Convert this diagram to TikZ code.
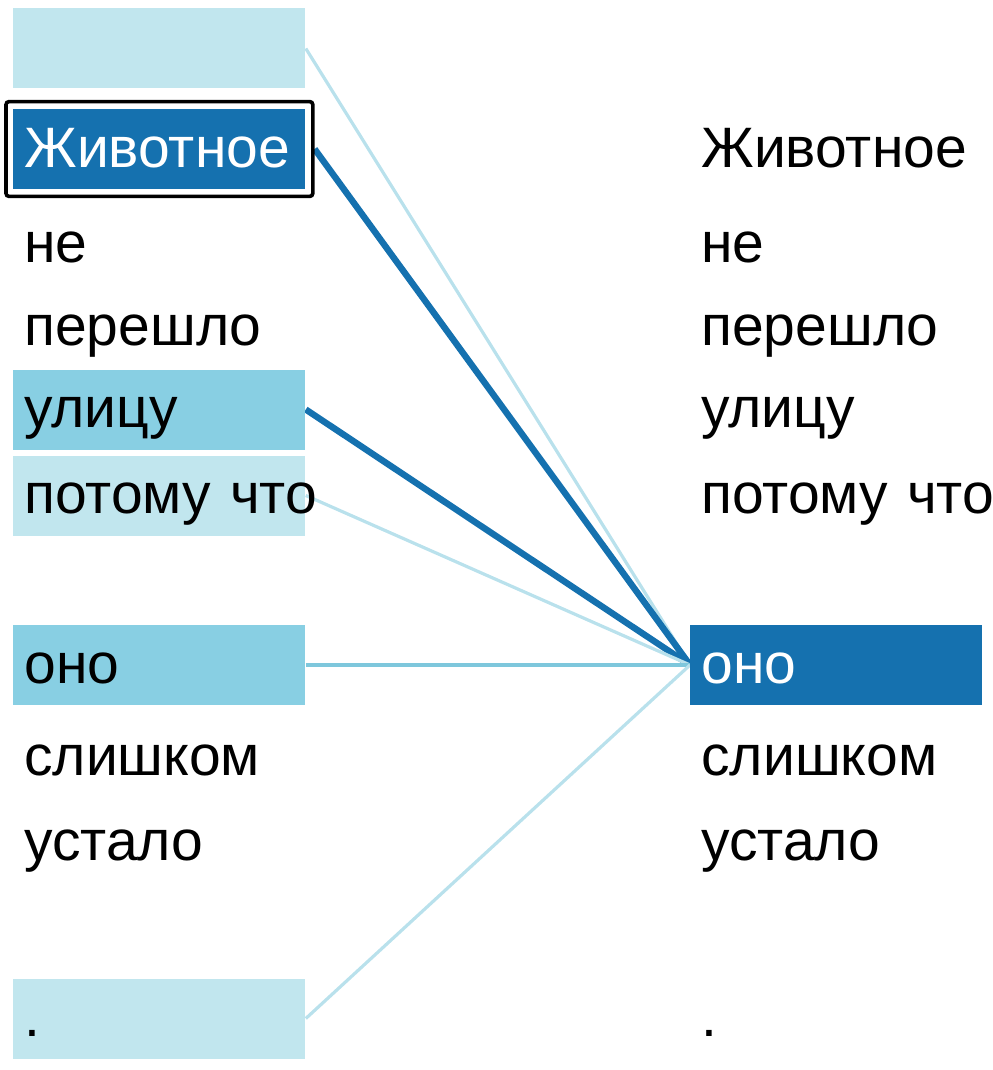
\documentclass[tikz,border=0pt]{standalone}
\usepackage{fontspec}
\setmainfont{Liberation Sans}
\usetikzlibrary{fit, backgrounds}

\definecolor{attnDark}{HTML}{1571AF}
\definecolor{attnMid}{HTML}{88CFE3}
\definecolor{attnLight}{HTML}{C1E6EE}
\definecolor{linkMid}{HTML}{7EC7DC}
\definecolor{linkLight}{HTML}{B9E1EC}

\tikzset{
  word/.style={anchor=west, minimum width=146pt, minimum height=40pt,
    text width=135pt, inner xsep=5.5pt, inner ysep=0pt, align=left,
    text height=20pt, text depth=2pt,
    font=\fontsize{28.5pt}{30pt}\selectfont,
    execute at begin node={\hbox to 0pt\bgroup},
    execute at end node={\hss\egroup}},
  frame/.style={draw=black, line width=1.8pt, inner sep=3.5pt, rounded corners=1.5pt},
  weak/.style={line width=1.6pt, linkLight},
  strong/.style={line width=3.2pt, attnDark},
}

\begin{document}
\begin{tikzpicture}[x=0.5pt, y=-0.5pt]
\useasboundingbox (0,0) rectangle (992,1070);

% left column: words that "оно" attends to
\node[word, fill=attnLight] (l0) at (13,48.5) {};
\node[word, fill=attnDark, text=white] (l1) at (13,149) {Животное};
\node[word] (l2) at (13,244) {не};
\node[word] (l3) at (13,327) {перешло};
\node[word, fill=attnMid] (l4) at (13,409.5) {улицу};
\node[word, fill=attnLight] (l5) at (13,495.5) {потому что};
\node[word, fill=attnMid] (l6) at (13,665) {оно};
\node[word] (l7) at (13,757) {слишком};
\node[word] (l8) at (13,842) {устало};
\node[word, fill=attnLight] (l9) at (13,1018.5) {.};
\node[frame, fit=(l1)] (focus) {};

% right column
\foreach \n/\w/\y in {1/Животное/149, 2/не/244, 3/перешло/327, 4/улицу/409.5,
    5/потому что/495.5, 7/слишком/757, 8/устало/842, 9/./1018.5}
  \node[word] (r\n) at (690,\y) {\w};
\node[word, fill=attnDark, text=white] (r6) at (690,665) {оно};

\begin{scope}[on background layer]
\draw[weak] (l0.east) -- (r6.west);
\draw[strong] (focus.east) -- (r6.west);
\draw[strong] (l4.east) -- (r6.west);
\draw[weak] (l5.east) -- (r6.west);
\draw[weak, linkMid] (l6.east) -- (r6.west);
\draw[weak] (l9.east) -- (r6.west);
\end{scope}
\end{tikzpicture}
\end{document}
